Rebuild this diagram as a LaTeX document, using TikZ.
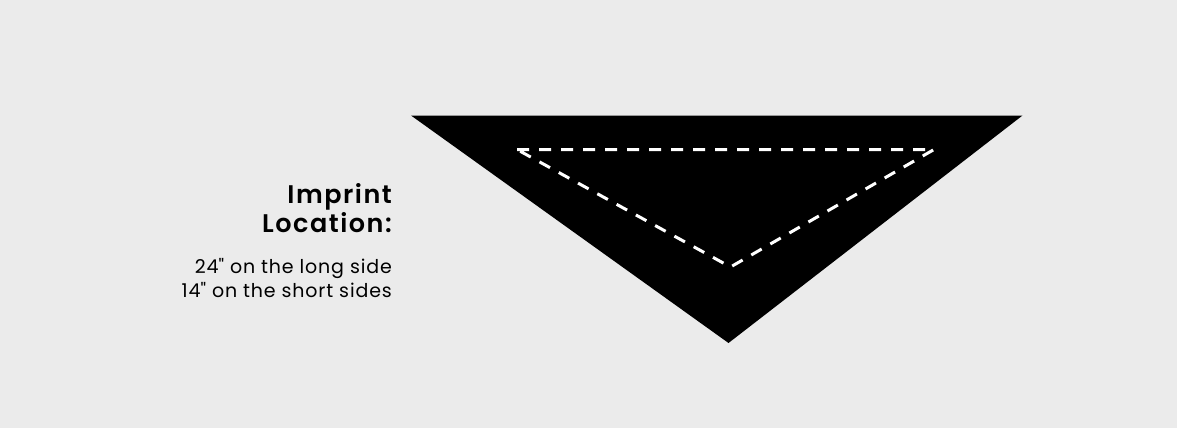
\documentclass[tikz,border=0pt]{standalone}
\usepackage{fontspec}
\setmainfont{Poppins}[BoldFont={Poppins SemiBold}]
\definecolor{bgray}{HTML}{EBEBEB}
\tikzset{
  imprintline/.style={white,line width=3pt,dash pattern=on 12pt off 10pt},
  headtext/.style={anchor=base east,inner sep=0pt,font=\addfontfeature{LetterSpace=6}\fontsize{25.5}{29}\selectfont\bfseries},
  subtext/.style={anchor=base east,inner sep=0pt,font=\addfontfeature{LetterSpace=4.5}\fontsize{19}{24}\selectfont},
}
\begin{document}
\begin{tikzpicture}[x=1pt,y=-1pt]
    \fill[bgray] (0,0) rectangle (1177,428);
    \useasboundingbox (0,0) rectangle (1177,428);

    % Bandana
    \coordinate (TL) at (411,115.5);
    \coordinate (TR) at (1022.5,115.5);
    \coordinate (B) at (728.5,343);
    \fill[black] (TL) -- (TR) -- (B) -- cycle;

    % Imprint area
    \coordinate (IL) at (517,149.5);
    \coordinate (IR) at (934,149.5);
    \coordinate (IB) at (730.5,267);
    \draw[imprintline] (IL) -- (IR) -- (IB) -- cycle;

    % Labels
    \node[headtext] (imprint) at (392,203) {Imprint};
    \node[headtext] (location) at (392,232) {Location:};
    \node[subtext] (longside) at (392,273) {24\textquotedbl{} on the long side};
    \node[subtext] (shortside) at (392,297) {14\textquotedbl{} on the short sides};
\end{tikzpicture}
\end{document}
